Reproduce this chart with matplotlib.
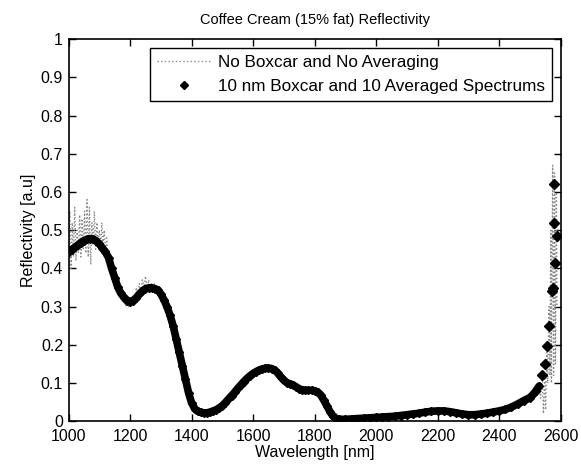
import matplotlib.pyplot as plt
from matplotlib.lines import Line2D

plt.rcParams['font.family'] = ['Liberation Sans', 'DejaVu Sans']

# 10 nm boxcar + 10 averaged spectra (black markers)
wl = [1000, 1010, 1020, 1030, 1040, 1050, 1060, 1070, 1080, 1090,
      1100, 1110, 1120, 1130, 1140, 1150, 1160, 1170, 1180, 1190,
      1200, 1210, 1220, 1230, 1240, 1250, 1260, 1270, 1280, 1290,
      1300, 1310, 1320, 1330, 1340, 1350, 1360, 1370, 1380, 1390,
      1400, 1410, 1420, 1430, 1440, 1450, 1460, 1470, 1480, 1490,
      1500, 1510, 1520, 1530, 1540, 1550, 1560, 1570, 1580, 1590,
      1600, 1610, 1620, 1630, 1640, 1650, 1660, 1670, 1680, 1690,
      1700, 1710, 1720, 1730, 1740, 1750, 1760, 1770, 1780, 1790,
      1800, 1810, 1820, 1830, 1840, 1850, 1860, 1870, 1880, 1900,
      1920, 1940, 1960, 1980, 2000, 2020, 2040, 2060, 2080, 2100,
      2120, 2140, 2160, 2180, 2200, 2220, 2240, 2260, 2280, 2300,
      2320, 2340, 2360, 2380, 2400, 2420, 2440, 2460, 2480, 2500,
      2510, 2520, 2530]
refl = [0.442, 0.449, 0.455, 0.461, 0.467, 0.473, 0.476, 0.478, 0.477, 0.472,
        0.465, 0.453, 0.443, 0.428, 0.400, 0.376, 0.351, 0.335, 0.324, 0.316,
        0.313, 0.316, 0.323, 0.333, 0.341, 0.347, 0.349, 0.349, 0.347, 0.344,
        0.333, 0.318, 0.300, 0.277, 0.250, 0.215, 0.180, 0.145, 0.110, 0.075,
        0.048, 0.033, 0.026, 0.023, 0.022, 0.022, 0.024, 0.027, 0.030, 0.035,
        0.041, 0.049, 0.058, 0.067, 0.076, 0.086, 0.095, 0.104, 0.112, 0.119,
        0.125, 0.130, 0.134, 0.137, 0.139, 0.139, 0.138, 0.134, 0.126, 0.116,
        0.107, 0.101, 0.098, 0.095, 0.090, 0.085, 0.082, 0.081, 0.081, 0.081,
        0.080, 0.076, 0.068, 0.055, 0.040, 0.025, 0.013, 0.007, 0.005, 0.005,
        0.006, 0.007, 0.008, 0.009, 0.010, 0.011, 0.012, 0.013, 0.015, 0.017,
        0.019, 0.021, 0.024, 0.026, 0.027, 0.027, 0.025, 0.022, 0.019, 0.017,
        0.017, 0.019, 0.021, 0.024, 0.027, 0.031, 0.037, 0.045, 0.054, 0.062,
        0.070, 0.080, 0.092]
# sparse samples at the detector edge
wl_end = [2539, 2548, 2555, 2561, 2572, 2574, 2583, 2588, 2577, 2577]
refl_end = [0.120, 0.150, 0.196, 0.250, 0.340, 0.350, 0.415, 0.485, 0.520, 0.620]

# raw spectrum, no boxcar, no averaging (grey dotted)
raw_wl = [1000, 1004, 1008, 1012, 1016, 1020, 1024, 1028, 1032, 1036,
          1040, 1044, 1048, 1052, 1056, 1060, 1064, 1068, 1072, 1076,
          1080, 1084, 1088, 1092, 1096, 1100, 1104, 1108, 1112, 1116,
          1120, 1124, 1128, 1132, 1136, 1140, 1146, 1150, 1156, 1160,
          1166, 1170, 1176, 1180, 1186, 1190, 1196, 1200, 1206, 1210,
          1216, 1220, 1226, 1230, 1236, 1240, 1246, 1250, 1256, 1260,
          1266, 1270, 1276, 1280, 1290, 1300, 1320, 1340, 1360, 1380,
          1400, 1420, 1450, 1500, 1550, 1600, 1650, 1700, 1750, 1800,
          1850, 1900, 2000, 2100, 2200, 2300, 2400, 2450, 2500, 2520,
          2530, 2535, 2540, 2544, 2548, 2551, 2555, 2558, 2562, 2565,
          2568, 2570, 2574, 2577, 2580, 2583, 2586, 2588]
raw_refl = [0.42, 0.55, 0.40, 0.52, 0.43, 0.56, 0.42, 0.50, 0.44, 0.54,
            0.43, 0.53, 0.45, 0.55, 0.44, 0.58, 0.43, 0.56, 0.41, 0.52,
            0.46, 0.55, 0.45, 0.52, 0.47, 0.50, 0.45, 0.52, 0.46, 0.50,
            0.44, 0.48, 0.43, 0.45, 0.41, 0.42, 0.39, 0.38, 0.35, 0.36,
            0.33, 0.34, 0.31, 0.33, 0.30, 0.32, 0.30, 0.32, 0.31, 0.33,
            0.32, 0.35, 0.33, 0.36, 0.34, 0.37, 0.35, 0.38, 0.34, 0.37,
            0.35, 0.36, 0.34, 0.36, 0.34, 0.33, 0.30, 0.25, 0.18, 0.11,
            0.05, 0.03, 0.02, 0.04, 0.09, 0.13, 0.14, 0.11, 0.09, 0.08,
            0.03, 0.005, 0.01, 0.017, 0.027, 0.017, 0.027, 0.035, 0.06, 0.08,
            0.09, 0.06, 0.11, 0.02, 0.12, 0.03, 0.18, 0.10, 0.30, 0.12,
            0.50, 0.10, 0.67, 0.12, 0.65, 0.15, 0.60, 0.30]

yticks = [0, 0.1, 0.2, 0.3, 0.4, 0.5, 0.6, 0.7, 0.8, 0.9, 1]
ytick_labels = ['0', '0.1', '0.2', '0.3', '0.4', '0.5', '0.6', '0.7', '0.8', '0.9', '1']

fig = plt.figure(figsize=(5.81, 4.67), dpi=100)
ax = fig.add_axes([0.118, 0.098, 0.847, 0.818])

ax.plot(raw_wl, raw_refl, ls=':', lw=1.0, color='#8a8a8a')
ax.plot(wl, refl, '-', lw=5.5, color='black', solid_capstyle='round')
ax.plot(wl, refl, 'D', ms=4, color='black')
ax.plot(wl_end, refl_end, 'D', ms=5, color='black', ls='none')

ax.set_xlim(1000, 2600)
ax.set_ylim(0, 1)
ax.set_xticks(range(1000, 2601, 200))
ax.set_yticks(yticks)
ax.set_yticklabels(ytick_labels)
ax.tick_params(direction='in', length=5, width=1, top=True, right=True, labelsize=11.5)
ax.tick_params(axis='x', pad=5.5)
ax.tick_params(axis='y', pad=4)
for s in ax.spines.values():
    s.set_linewidth(1.2)

ax.set_title('Coffee Cream (15% fat) Reflectivity', fontsize=10.5, pad=11)
ax.set_xlabel('Wavelength [nm]', fontsize=11.5, labelpad=1)
ax.set_ylabel('Reflectivity [a.u]', fontsize=11.5, labelpad=3)

handles = [Line2D([], [], ls=':', lw=1.0, color='#8a8a8a'),
           Line2D([], [], marker='D', ms=4, ls='none', color='black')]
leg = ax.legend(handles, ['No Boxcar and No Averaging', '10 nm Boxcar and 10 Averaged Spectrums'],
                loc='upper right', fontsize=12.3, handlelength=3.2, handletextpad=0.4,
                fancybox=False, framealpha=1, edgecolor='black', borderaxespad=0.5,
                borderpad=0.4, labelspacing=0.55)
leg.get_frame().set_linewidth(1.0)

fig.savefig('out.png', dpi=100)
